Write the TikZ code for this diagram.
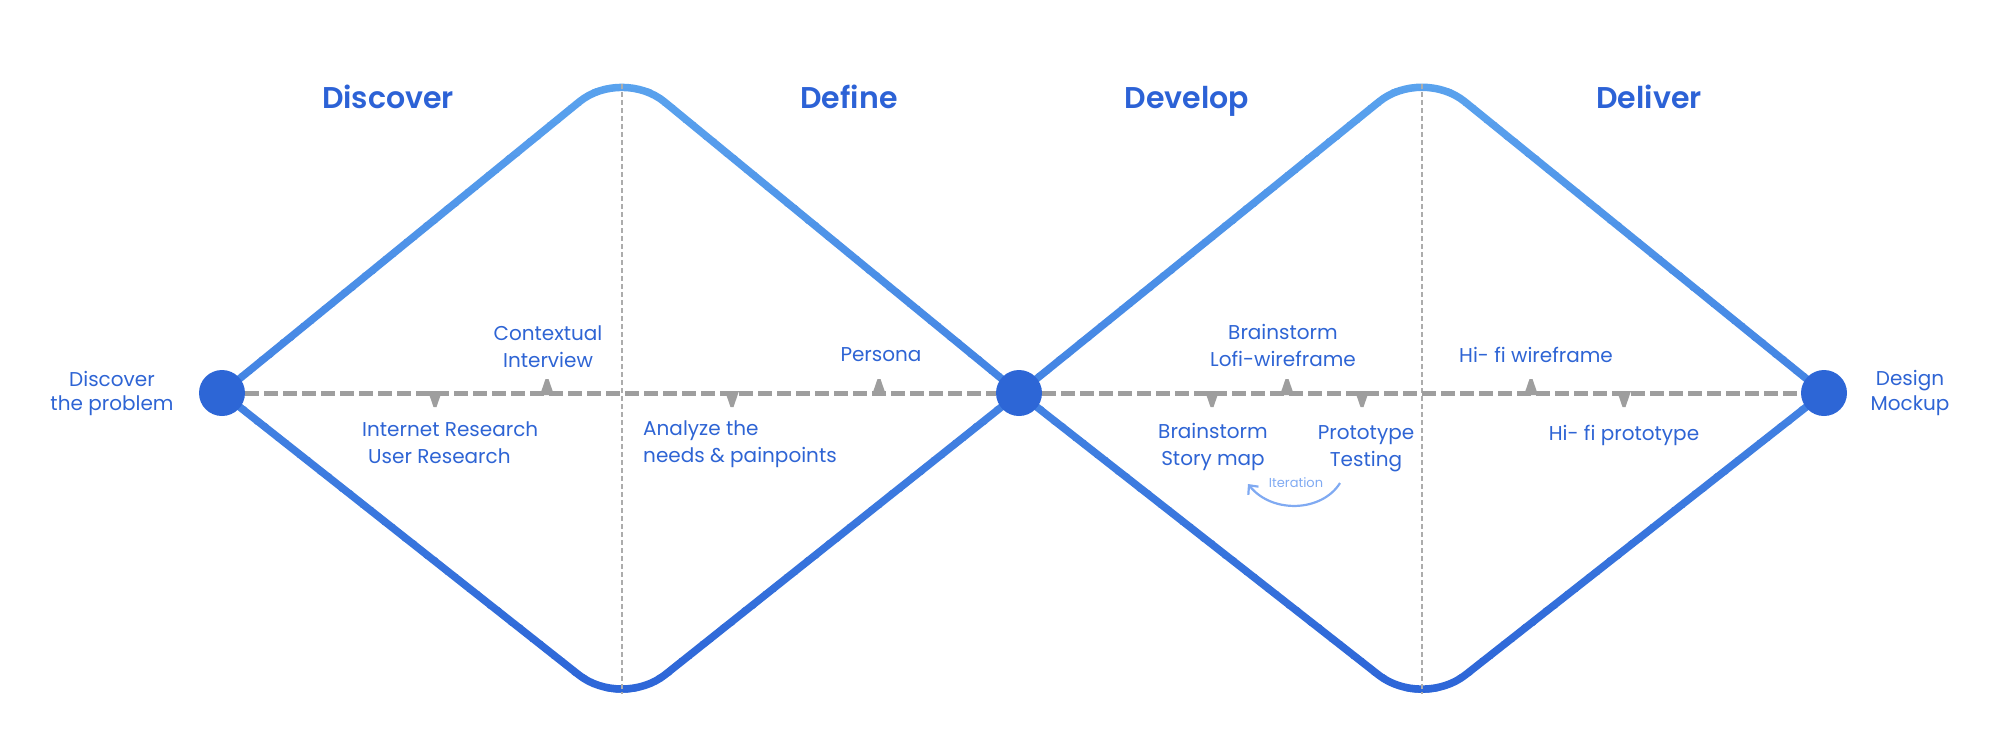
\documentclass[tikz,border=0pt]{standalone}
\usepackage{fontspec}
\setmainfont{Poppins}
\newfontfamily\headfont{Poppins}[UprightFont={* SemiBold}]
\usetikzlibrary{arrows.meta}
\definecolor{ltblue}{RGB}{92,165,239}
\definecolor{dkblue}{RGB}{42,98,214}
\definecolor{dotblue}{RGB}{45,102,214}
\definecolor{txtblue}{RGB}{46,100,212}
\definecolor{headblue}{RGB}{44,98,214}
\definecolor{dashgray}{RGB}{158,158,158}
\definecolor{vgray}{RGB}{172,172,172}
\definecolor{iterblue}{RGB}{128,170,242}
\newcommand\diamondlines{%
  \draw[rounded corners=55pt] (p1) -- (t1) -- (p2);
  \draw[rounded corners=55pt] (p1) -- (b1) -- (p2);
  \draw[rounded corners=55pt] (p2) -- (t2) -- (p3);
  \draw[rounded corners=55pt] (p2) -- (b2) -- (p3);
}
\begin{document}
\begin{tikzpicture}[x=1pt,y=-1pt,
  dot/.style={circle,fill=dotblue,minimum size=46pt,inner sep=0pt},
  hline/.style={draw=dashgray,line width=5pt,dash pattern=on 14pt off 5pt},
  vline/.style={draw=vgray,line width=1.5pt,dash pattern=on 5pt off 3pt},
  marker/.style={fill=dashgray},
  lbl/.style={text=txtblue,font=\fontsize{20}{27}\selectfont,inner sep=0pt,anchor=base,align=center},
  head/.style={text=headblue,font=\fontsize{30}{36}\selectfont\headfont,inner sep=0pt,anchor=base},
  iter/.style={text=iterblue,font=\fontsize{13}{16}\selectfont,inner sep=0pt,anchor=base},
  iterarrow/.style={draw=iterblue,line width=2.2pt,-{Straight Barb[length=7pt,width=13pt]}}
]
\useasboundingbox (0,0) rectangle (2000,732);
\coordinate (p1) at (222,393);
\coordinate (p2) at (1019,393);
\coordinate (p3) at (1824,393);
\coordinate (t1) at (622,67);
\coordinate (b1) at (622,709);
\coordinate (t2) at (1422,67);
\coordinate (b2) at (1422,709);
\coordinate (v1t) at (622,84);
\coordinate (v1b) at (622,694);
\coordinate (v2t) at (1422,84);
\coordinate (v2b) at (1422,694);
% gradient diamonds
\foreach \i in {0,...,39}{
  \pgfmathsetmacro\ya{55+\i*16.75}
  \pgfmathsetmacro\yb{\ya+17.25}
  \pgfmathtruncatemacro\p{(\i+0.5)*2.5}
  \begin{scope}
    \clip (0,\ya) rectangle (2000,\yb);
    \begin{scope}[draw=dkblue!\p!ltblue, line width=7.5pt]
      \diamondlines
    \end{scope}
  \end{scope}
}
% vertical dividers
\draw[vline] (v1t) -- (v1b);
\draw[vline] (v2t) -- (v2b);
% nodes
\node[dot] (n1) at (p1) {};
\node[dot] (n2) at (p2) {};
\node[dot] (n3) at (p3) {};
% dashed axis
\draw[hline] (n1) -- (n2);
\draw[hline] (n2) -- (n3);
% markers
\foreach \x in {435,732,1212,1362,1624}
  \fill[marker] (\x-7,391) -- (\x+7,391) -- (\x+1.5,407) -- (\x-1.5,407) -- cycle;
\foreach \x in {547,879,1287,1531}
  \fill[marker] (\x-7,395) -- (\x+7,395) -- (\x+1.5,379) -- (\x-1.5,379) -- cycle;
% headings
\node[head] (hdisc) at (388,108) {Discover};
\node[head] (hdef) at (849,108) {Define};
\node[head] (hdev) at (1187,108) {Develop};
\node[head] (hdel) at (1649,108) {Deliver};
% labels (base = last line baseline)
\node[lbl,font=\fontsize{20}{24}\selectfont] (ldisc) at (112,410) {Discover\\the problem};
\node[lbl] (lctx) at (548,367) {Contextual\\Interview};
\node[lbl,align=left,anchor=base west] (lint) at (362,463) {Internet Research\\\hspace*{6pt}User Research};
\node[lbl,align=left,anchor=base west] (lana) at (643,462) {Analyze the\\needs \& painpoints};
\node[lbl] (lper) at (881,361) {Persona};
\node[lbl] (llofi) at (1283,366) {Brainstorm\\Lofi-wireframe};
\node[lbl] (lstory) at (1213,465) {Brainstorm\\Story map};
\node[lbl] (lproto) at (1366,466) {Prototype\\Testing};
\node[lbl] (lhiw) at (1536,362) {Hi- fi wireframe};
\node[lbl] (lhip) at (1624,440) {Hi- fi prototype};
\node[lbl,font=\fontsize{20}{25}\selectfont] (ldes) at (1910,410) {Design\\Mockup};
% iteration
\node[iter] (liter) at (1296,487) {Iteration};
\coordinate (ia) at (1340,483);
\coordinate (ib) at (1248,484);
\draw[iterarrow] (ia) .. controls (1322,512) and (1272,514) .. (ib);
\end{tikzpicture}
\end{document}
